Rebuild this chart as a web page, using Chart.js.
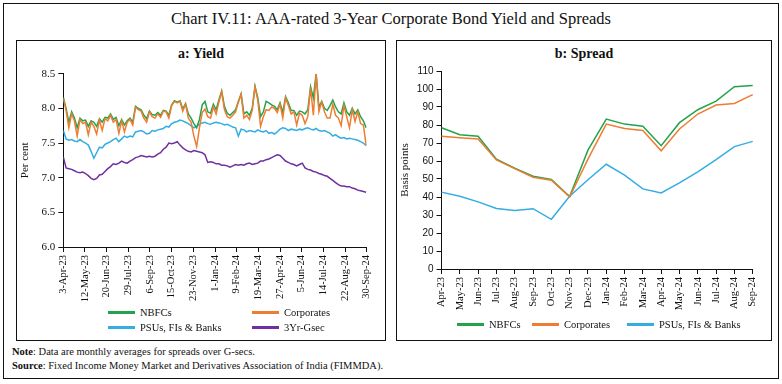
<!DOCTYPE html>
<html>
<head>
<meta charset="utf-8">
<script src="https://cdn.jsdelivr.net/npm/chart.js@4.4.1/dist/chart.umd.min.js"></script>
<style>
body{margin:0;background:#fff;width:782px;height:384px;position:relative;overflow:hidden;font-family:"Liberation Serif",serif;color:#111}
.box{position:absolute;border:1px solid #111;box-sizing:border-box}
#outer{left:3px;top:3px;width:776px;height:376px}
#pa{left:16px;top:40px;width:370px;height:301px}
#pb{left:396px;top:40px;width:376px;height:301px}
.title{position:absolute;left:0;width:782px;top:9px;line-height:20px;text-align:center;font-size:16.5px}
.ptitle{position:absolute;top:46px;line-height:16px;font-weight:bold;font-size:14px;text-align:center}
canvas{position:absolute}
.lg{position:absolute;font-size:10.5px;line-height:12px;white-space:nowrap}
.lg i{display:inline-block;width:27px;height:3px;vertical-align:middle;margin-right:5px;margin-top:-2px}
.note{position:absolute;left:12px;font-size:10.5px;line-height:13px}
</style>
</head>
<body>
<div class="box" id="outer"></div>
<div class="title">Chart IV.11: AAA-rated 3-Year Corporate Bond Yield and Spreads</div>
<div class="box" id="pa"></div>
<div class="box" id="pb"></div>
<div class="ptitle" style="left:16px;width:370px">a: Yield</div>
<div class="ptitle" style="left:396px;width:376px">b: Spread</div>
<canvas id="cy" width="366" height="245" style="left:17px;top:60px;width:366px;height:245px"></canvas>
<canvas id="cs" width="372" height="250" style="left:397px;top:60px;width:372px;height:250px"></canvas>
<div id="legends"></div>
<div class="note" style="top:345px"><b>Note</b>: Data are monthly averages for spreads over G-secs.</div>
<div class="note" style="top:359px"><b>Source</b>: Fixed Income Money Market and Derivatives Association of India (FIMMDA).</div>
<script>
// a: Yield - sampled every 5 days from 3-Apr-23
const yieldDays = Array.from({length: 110}, (_, i) => i * 5);
const yieldTickLabels = ['3-Apr-23','12-May-23','20-Jun-23','29-Jul-23','6-Sep-23','15-Oct-23','23-Nov-23','1-Jan-24','9-Feb-24','19-Mar-24','27-Apr-24','5-Jun-24','14-Jul-24','22-Aug-24','30-Sep-24'];

const nbfcYield = [8.16,8.00,7.80,7.95,7.86,7.72,7.86,7.82,7.83,7.74,
  7.82,7.80,7.74,7.85,7.80,7.87,7.86,7.92,7.84,7.87,
  7.75,7.84,7.76,7.82,7.86,7.80,8.03,8.00,7.98,7.90,
  7.85,7.96,7.91,7.90,7.94,7.90,7.97,7.96,7.90,8.05,
  8.11,8.09,8.11,7.99,8.07,7.92,7.86,7.78,7.72,7.84,
  8.05,8.10,7.95,7.93,8.06,7.98,8.12,8.25,8.03,7.93,
  7.90,7.94,7.98,8.10,8.21,7.92,7.95,7.90,8.00,8.32,
  8.15,7.88,7.95,8.10,8.08,8.05,8.03,7.98,8.08,7.94,
  8.17,8.08,7.97,7.97,7.90,7.96,7.95,7.92,7.98,8.31,
  8.15,8.50,8.02,8.10,8.00,7.97,8.04,8.12,8.02,7.95,
  7.92,8.08,7.95,7.90,8.00,7.92,7.98,7.88,7.82,7.72];
const corpYield = [8.14,7.97,7.72,7.92,7.82,7.60,7.84,7.78,7.80,7.62,
  7.80,7.74,7.63,7.83,7.68,7.85,7.82,7.90,7.80,7.84,
  7.64,7.82,7.66,7.80,7.84,7.76,8.02,7.98,7.96,7.86,
  7.80,7.95,7.88,7.86,7.92,7.87,7.96,7.95,7.86,8.04,
  8.10,8.08,8.10,7.96,8.06,7.86,7.80,7.60,7.45,7.72,
  7.94,7.99,7.88,7.86,8.02,7.92,8.09,8.24,7.98,7.88,
  7.86,7.90,7.95,8.09,8.20,7.86,7.90,7.84,7.97,8.31,
  8.12,7.74,7.88,7.98,7.97,8.02,8.00,7.94,8.06,7.86,
  8.15,8.04,7.92,7.95,7.76,7.93,7.90,7.78,7.88,8.30,
  7.90,8.50,7.95,8.09,7.95,7.86,7.86,8.06,7.90,7.86,
  7.75,8.04,7.88,7.72,7.98,7.81,7.95,7.78,7.76,7.47];
const psuYield = [7.68,7.56,7.54,7.55,7.53,7.52,7.55,7.52,7.50,7.47,
  7.38,7.28,7.36,7.44,7.43,7.48,7.50,7.52,7.55,7.57,
  7.52,7.56,7.60,7.58,7.60,7.59,7.66,7.67,7.68,7.66,
  7.63,7.64,7.68,7.67,7.69,7.70,7.71,7.74,7.73,7.78,
  7.80,7.81,7.83,7.82,7.80,7.78,7.75,7.72,7.74,7.77,
  7.79,7.80,7.78,7.77,7.79,7.80,7.79,7.78,7.76,7.77,
  7.75,7.73,7.72,7.60,7.70,7.69,7.66,7.68,7.67,7.66,
  7.69,7.67,7.66,7.68,7.64,7.65,7.63,7.66,7.70,7.72,
  7.71,7.68,7.70,7.69,7.68,7.70,7.69,7.71,7.72,7.70,
  7.69,7.71,7.68,7.67,7.68,7.66,7.64,7.60,7.62,7.59,
  7.57,7.58,7.56,7.57,7.56,7.55,7.54,7.52,7.50,7.46];
const gsecYield = [7.30,7.14,7.13,7.12,7.10,7.08,7.07,7.08,7.06,7.03,
  6.99,6.97,6.99,7.04,7.05,7.09,7.13,7.16,7.20,7.19,
  7.21,7.24,7.22,7.21,7.24,7.26,7.29,7.30,7.32,7.31,
  7.30,7.31,7.30,7.31,7.34,7.36,7.41,7.44,7.50,7.49,
  7.50,7.52,7.47,7.43,7.40,7.38,7.37,7.39,7.38,7.37,
  7.36,7.33,7.22,7.23,7.22,7.20,7.20,7.18,7.18,7.17,
  7.15,7.17,7.19,7.18,7.19,7.18,7.20,7.21,7.19,7.20,
  7.21,7.24,7.24,7.26,7.27,7.29,7.31,7.33,7.32,7.28,
  7.24,7.22,7.20,7.19,7.17,7.19,7.21,7.14,7.12,7.11,
  7.09,7.08,7.06,7.05,7.03,7.02,6.99,6.96,6.93,6.90,
  6.88,6.88,6.87,6.87,6.85,6.84,6.82,6.81,6.80,6.79];

// b: Spread - monthly, basis points
const months = ['Apr-23','May-23','Jun-23','Jul-23','Aug-23','Sep-23','Oct-23','Nov-23','Dec-23','Jan-24','Feb-24','Mar-24','Apr-24','May-24','Jun-24','Jul-24','Aug-24','Sep-24'];
const nbfcSpread = [78.5,74.6,73.7,61.0,56.0,51.5,49.8,40.3,66.0,83.3,80.5,79.3,68.5,81.3,88.5,93.3,101.3,101.9];
const corpSpread = [73.7,72.9,72.2,60.6,55.8,51.0,49.3,40.0,61.0,80.5,78.1,76.9,65.7,77.8,86.1,91.1,92.0,96.9];
const psuSpread = [42.7,40.4,37.3,33.6,32.5,33.5,27.6,40.4,49.6,58.2,52.2,44.5,42.3,47.8,54.0,60.8,68.0,70.9];

const GREEN = '#22A34C', ORANGE = '#EE7D31', BLUE = '#33ADE3', PURPLE = '#7030A0';
const serif = 'Liberation Serif';

const yieldSeries = [
  {label: 'NBFCs', values: nbfcYield, color: GREEN, order: 2},
  {label: 'Corporates', values: corpYield, color: ORANGE, order: 1},
  {label: 'PSUs, FIs & Banks', values: psuYield, color: BLUE, order: 3},
  {label: '3Yr-Gsec', values: gsecYield, color: PURPLE, order: 4}
];
const spreadSeries = [
  {label: 'NBFCs', values: nbfcSpread, color: GREEN, order: 2},
  {label: 'Corporates', values: corpSpread, color: ORANGE, order: 1},
  {label: 'PSUs, FIs & Banks', values: psuSpread, color: BLUE, order: 3}
];

const common = {
  responsive: false, animation: false, events: [],
  plugins: {legend: {display: false}, tooltip: {enabled: false}},
  elements: {point: {radius: 0}, line: {borderWidth: 1.5, tension: 0}}
};
const axisGrid = {drawOnChartArea: false, tickLength: 5, color: '#111'};

new Chart(document.getElementById('cy'), {
  type: 'line',
  data: {
    datasets: yieldSeries.map(s => ({
      label: s.label, order: s.order, borderColor: s.color, backgroundColor: s.color,
      data: yieldDays.map((d, i) => ({x: d, y: s.values[i]}))
    }))
  },
  options: Object.assign({}, common, {
    layout: {padding: {top: 13.7, right: 16.3, left: 0, bottom: 0}},
    scales: {
      x: {
        type: 'linear', min: 0, max: 546,
        afterBuildTicks: s => { s.ticks = yieldTickLabels.map((_, i) => ({value: i * 39})); },
        ticks: {autoSkip: false, minRotation: 90, maxRotation: 90, padding: 3, color: '#111',
          font: {family: serif, size: 10.5}, callback: (v, i) => yieldTickLabels[i]},
        grid: axisGrid, border: {color: '#111'},
        afterFit: s => { s.height = 58; }
      },
      y: {
        min: 6, max: 8.5,
        ticks: {stepSize: 0.5, padding: 3, color: '#111', font: {family: serif, size: 11},
          callback: v => v.toFixed(1)},
        grid: axisGrid, border: {color: '#111'},
        title: {display: true, text: 'Per cent', color: '#111', font: {family: serif, size: 11}, padding: {top: 2, bottom: 2}},
        afterFit: s => { s.width = 46.3; }
      }
    }
  })
});

new Chart(document.getElementById('cs'), {
  type: 'line',
  data: {
    labels: months,
    datasets: spreadSeries.map(s => ({
      label: s.label, order: s.order, borderColor: s.color, backgroundColor: s.color, data: s.values
    }))
  },
  options: Object.assign({}, common, {
    layout: {padding: {top: 11, right: 16.3, left: 0, bottom: 0}},
    scales: {
      x: {
        offset: false,
        ticks: {autoSkip: false, minRotation: 90, maxRotation: 90, padding: 3, color: '#111',
          font: {family: serif, size: 10.5}},
        grid: Object.assign({}, axisGrid, {offset: false}), border: {color: '#111'},
        afterFit: s => { s.height = 41; }
      },
      y: {
        min: 0, max: 110,
        ticks: {stepSize: 10, padding: 3, color: '#111', font: {family: 'Liberation Sans', size: 10}},
        grid: axisGrid, border: {color: '#111'},
        title: {display: true, text: 'Basis points', color: '#111', font: {family: serif, size: 11}, padding: {top: 2, bottom: 2}},
        afterFit: s => { s.width = 44.5; }
      }
    }
  })
});

// HTML legends
const legendPos = {
  yield: [[108, 313], [252, 313], [108, 328], [252, 328]],
  spread: [[457, 325], [532, 325], [627, 325]]
};
const lg = document.getElementById('legends');
function addLegend(series, pos) {
  series.forEach((s, i) => {
    const d = document.createElement('div');
    d.className = 'lg';
    d.style.left = pos[i][0] + 'px';
    d.style.top = (pos[i][1] - 6) + 'px';
    d.innerHTML = '<i style="background:' + s.color + '"></i>' + s.label.replace('&', '&amp;');
    lg.appendChild(d);
  });
}
addLegend(yieldSeries, legendPos.yield);
addLegend(spreadSeries, legendPos.spread);
</script>
</body>
</html>
